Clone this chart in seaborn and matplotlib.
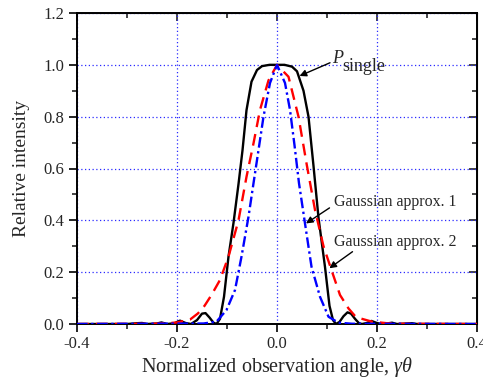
import numpy as np
import pandas as pd
import matplotlib
matplotlib.use("Agg")
import matplotlib.pyplot as plt
import seaborn as sns

# P_single (black solid)
x_single = [-0.40, -0.30, -0.28, -0.27, -0.26, -0.24, -0.231, -0.22, -0.205, -0.194, -0.183,
            -0.172, -0.160, -0.150, -0.143, -0.135, -0.127, -0.121, -0.114, -0.106, -0.097,
            -0.087, -0.077, -0.069, -0.061, -0.051, -0.040, -0.030, -0.015, 0.0,
            0.015, 0.030, 0.040, 0.053, 0.063, 0.073, 0.083, 0.096, 0.105, 0.112, 0.118,
            0.125, 0.133, 0.141, 0.148, 0.156, 0.164, 0.170, 0.180, 0.189, 0.198, 0.208,
            0.220, 0.230, 0.240, 0.270, 0.280, 0.40]
y_single = [0.0, 0.0, 0.003, 0.004, 0.0, 0.002, 0.006, 0.0, 0.003, 0.013, 0.004,
            0.0, 0.015, 0.040, 0.042, 0.025, 0.005, 0.0, 0.020, 0.105, 0.26,
            0.39, 0.54, 0.67, 0.825, 0.935, 0.98, 0.995, 1.0, 1.0,
            1.0, 0.993, 0.975, 0.90, 0.80, 0.61, 0.41, 0.22, 0.07, 0.015, 0.0,
            0.008, 0.030, 0.045, 0.040, 0.020, 0.003, 0.0, 0.004, 0.012, 0.005, 0.0,
            0.002, 0.005, 0.0, 0.003, 0.0, 0.0]

# Gaussian approx. 2 (red dashed)
x_gauss2 = [-0.40, -0.25, -0.22, -0.20, -0.174, -0.158, -0.145, -0.131, -0.114, -0.097,
            -0.077, -0.061, -0.047, -0.034, -0.017, 0.0, 0.023, 0.043, 0.059, 0.076,
            0.093, 0.109, 0.126, 0.143, 0.156, 0.166, 0.19, 0.22, 0.25, 0.40]
y_gauss2 = [0.0, 0.001, 0.003, 0.006, 0.017, 0.041, 0.07, 0.112, 0.17, 0.26,
            0.40, 0.568, 0.697, 0.826, 0.94, 1.0, 0.954, 0.80, 0.62, 0.44,
            0.30, 0.208, 0.112, 0.06, 0.031, 0.022, 0.009, 0.003, 0.001, 0.0]

# Gaussian approx. 1 (blue dash-dot)
x_gauss1 = [-0.40, -0.147, -0.121, -0.101, -0.084, -0.071, -0.057, -0.047, -0.037, -0.027,
            -0.014, 0.0, 0.016, 0.026, 0.035, 0.044, 0.056, 0.069, 0.086, 0.103, 0.123,
            0.15, 0.40]
y_gauss1 = [0.0, 0.002, 0.009, 0.054, 0.131, 0.26, 0.414, 0.543, 0.671, 0.80,
            0.93, 1.0, 0.93, 0.826, 0.69, 0.543, 0.388, 0.221, 0.105, 0.028, 0.005,
            0.001, 0.0]

sns.set_style("ticks")
plt.rcParams["font.family"] = ["Liberation Serif", "DejaVu Serif"]
plt.rcParams["mathtext.fontset"] = "custom"
plt.rcParams["mathtext.rm"] = "Liberation Serif"
plt.rcParams["mathtext.it"] = "Liberation Serif:italic"

fig = plt.figure(figsize=(4.83, 3.82), dpi=100)
ax = fig.add_axes([77 / 483, 1 - 324 / 382, 400 / 483, 311 / 382])

sns.lineplot(x=x_single, y=y_single, ax=ax, color="black", linewidth=1.7, sort=False, zorder=3)
sns.lineplot(x=x_gauss2, y=y_gauss2, ax=ax, color="red", linewidth=1.7, sort=False,
             linestyle=(0, (5, 3)), zorder=3)
sns.lineplot(x=x_gauss1, y=y_gauss1, ax=ax, color="blue", linewidth=1.7, sort=False,
             linestyle=(0, (4.5, 1.5, 1, 1.5)), zorder=3)

ax.set_xlim(-0.4, 0.4)
ax.set_ylim(0, 1.2)
ax.set_xticks([-0.4, -0.2, 0.0, 0.2, 0.4])
ax.set_xticks([-0.3, -0.1, 0.1, 0.3], minor=True)
ax.set_yticks([0.0, 0.2, 0.4, 0.6, 0.8, 1.0, 1.2])
ax.set_yticks([0.1, 0.3, 0.5, 0.7, 0.9, 1.1], minor=True)
ax.set_xticklabels(["-0.4", "-0.2", "0.0", "0.2", "0.4"])
ax.set_yticklabels(["0.0", "0.2", "0.4", "0.6", "0.8", "1.0", "1.2"])
ax.grid(True, which="major", color="#2a2aff", linestyle=(0, (1, 2)), linewidth=0.9)
ax.tick_params(which="major", direction="out", length=5.5, width=1.2, labelsize=12, color="black")
ax.tick_params(which="minor", direction="out", length=3.5, width=1.2)
for s in ax.spines.values():
    s.set_linewidth(1.4)
    s.set_color("black")

# inward ticks on top and right
top = ax.secondary_xaxis("top")
top.set_xticks([-0.4, -0.2, 0.0, 0.2, 0.4])
top.set_xticks([-0.3, -0.1, 0.1, 0.3], minor=True)
top.tick_params(which="major", direction="in", length=5.5, width=1.2, labeltop=False)
top.tick_params(which="minor", direction="in", length=3.5, width=1.2)
right = ax.secondary_yaxis("right")
right.set_yticks([0.0, 0.2, 0.4, 0.6, 0.8, 1.0, 1.2])
right.set_yticks([0.1, 0.3, 0.5, 0.7, 0.9, 1.1], minor=True)
right.tick_params(which="major", direction="in", length=5.5, width=1.2, labelright=False)
right.tick_params(which="minor", direction="in", length=3.5, width=1.2)

ax.set_xlabel(r"Normalized observation angle, $\gamma\theta$", fontsize=14.5, labelpad=2)
ax.set_ylabel("Relative intensity", fontsize=14, labelpad=10)

arrow = dict(arrowstyle="-|>", color="black", lw=1.0, mutation_scale=10, shrinkA=0, shrinkB=0)
ax.annotate("", xy=(0.045, 0.957), xytext=(0.106, 1.008), arrowprops=arrow)
ax.text(0.110, 1.006, "P", fontsize=13, style="italic", ha="left", va="baseline")
ax.text(0.130, 0.975, "single", fontsize=13, ha="left", va="baseline")
ax.annotate("", xy=(0.058, 0.388), xytext=(0.105, 0.448), arrowprops=arrow)
ax.text(0.114, 0.472, "Gaussian approx. 1", fontsize=11.5, ha="left", va="center")
ax.annotate("", xy=(0.1047, 0.215), xytext=(0.151, 0.279), arrowprops=arrow)
ax.text(0.114, 0.3175, "Gaussian approx. 2", fontsize=11.5, ha="left", va="center")

fig.savefig("out.png", dpi=100)
plt.close(fig)
